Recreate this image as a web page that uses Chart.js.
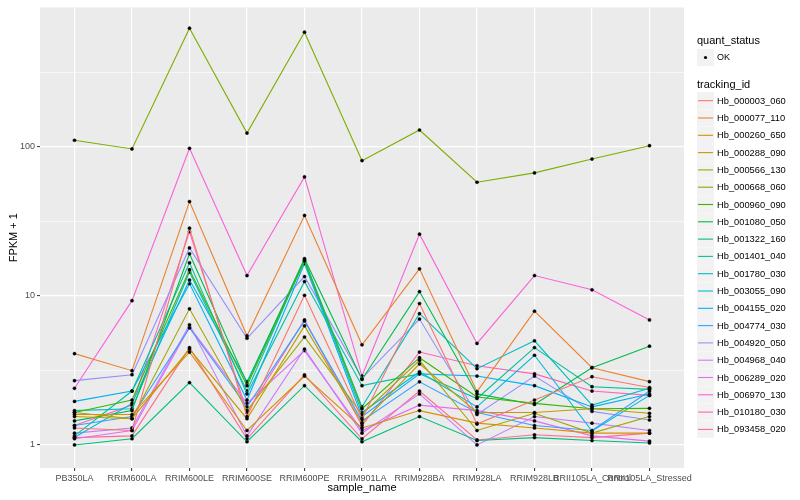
<!DOCTYPE html>
<html>
<head>
<title>FPKM + 1 by sample</title>
<script src="https://cdn.jsdelivr.net/npm/chart.js@4.4.1/dist/chart.umd.min.js"></script>
<style>
  html, body { margin: 0; padding: 0; background: #ffffff; }
  #wrap { width: 800px; height: 500px; }
</style>
</head>
<body>
<div id="wrap"><canvas id="myChart" width="800" height="500"></canvas></div>
<script>
// categories on the x axis
var samples = ["PB350LA", "RRIM600LA", "RRIM600LE", "RRIM600SE", "RRIM600PE", "RRIM901LA",
               "RRIM928BA", "RRIM928LA", "RRIM928LB", "RRII105LA_Control", "RRII105LA_Stressed"];

// FPKM + 1 per tracking id, one value per sample
var hb_000003_060 = [1.30, 1.25, 28.5, 1.55, 10.1, 1.50, 8.9, 1.38, 2.00, 2.87, 2.43];
var hb_000077_110 = [4.10, 3.15, 43.0, 5.40, 34.7, 4.70, 15.2, 2.28, 7.90, 3.30, 2.66];
var hb_000260_650 = [1.60, 1.60, 4.20, 1.25, 2.90, 1.30, 1.70, 1.40, 1.30, 1.20, 1.20];
var hb_000288_090 = [1.55, 1.50, 4.40, 1.50, 6.30, 1.40, 3.50, 1.65, 1.65, 1.75, 1.63];
var hb_000566_130 = [1.65, 1.50, 8.20, 1.70, 5.30, 1.60, 3.70, 1.25, 1.63, 1.20, 1.55];
var hb_000668_060 = [111, 97, 627, 124, 590, 81, 130, 58, 67, 83, 102];
var hb_000960_090 = [1.65, 2.00, 15.0, 2.50, 17.2, 1.75, 3.85, 2.10, 1.90, 1.75, 1.76];
var hb_001080_050 = [1.45, 1.70, 19.2, 2.60, 17.8, 2.75, 10.7, 2.20, 1.87, 3.30, 4.60];
var hb_001322_160 = [1.00, 1.10, 2.62, 1.05, 2.50, 1.05, 1.55, 1.07, 1.12, 1.07, 1.03];
var hb_001401_040 = [1.15, 2.30, 16.7, 2.20, 12.5, 2.50, 3.00, 2.05, 4.50, 2.46, 2.36];
var hb_001780_030 = [1.70, 1.75, 14.5, 2.30, 17.5, 1.80, 7.60, 3.25, 5.00, 1.85, 2.40];
var hb_003055_090 = [1.12, 1.90, 12.8, 2.66, 17.0, 1.65, 3.10, 1.80, 4.00, 1.24, 2.15];
var hb_004155_020 = [1.96, 2.30, 12.1, 2.00, 16.5, 1.55, 3.00, 2.90, 2.50, 1.80, 2.20];
var hb_004774_030 = [1.35, 1.55, 6.10, 1.80, 6.80, 1.45, 2.65, 1.65, 1.35, 1.25, 2.30];
var hb_004920_050 = [2.70, 2.96, 21.0, 5.20, 13.5, 2.80, 7.00, 1.60, 2.90, 1.68, 1.47];
var hb_004968_040 = [1.20, 1.30, 6.40, 1.15, 4.40, 1.20, 2.20, 1.00, 1.55, 1.40, 1.25];
var hb_006289_020 = [1.10, 1.25, 6.20, 1.90, 4.30, 1.25, 1.85, 1.70, 1.45, 1.15, 1.06];
var hb_006970_130 = [2.40, 9.30, 98.0, 13.7, 63.0, 2.90, 26.0, 4.80, 13.7, 11.0, 6.90];
var hb_010180_030 = [1.35, 1.85, 27.0, 1.65, 6.90, 1.35, 4.20, 3.40, 3.00, 2.30, 2.15];
var hb_093458_020 = [1.12, 1.15, 4.50, 1.10, 2.95, 1.10, 2.30, 1.08, 1.17, 1.12, 1.20];

var trackingIds = ["Hb_000003_060", "Hb_000077_110", "Hb_000260_650", "Hb_000288_090", "Hb_000566_130",
                   "Hb_000668_060", "Hb_000960_090", "Hb_001080_050", "Hb_001322_160", "Hb_001401_040",
                   "Hb_001780_030", "Hb_003055_090", "Hb_004155_020", "Hb_004774_030", "Hb_004920_050",
                   "Hb_004968_040", "Hb_006289_020", "Hb_006970_130", "Hb_010180_030", "Hb_093458_020"];
var seriesValues = [hb_000003_060, hb_000077_110, hb_000260_650, hb_000288_090, hb_000566_130,
                    hb_000668_060, hb_000960_090, hb_001080_050, hb_001322_160, hb_001401_040,
                    hb_001780_030, hb_003055_090, hb_004155_020, hb_004774_030, hb_004920_050,
                    hb_004968_040, hb_006289_020, hb_006970_130, hb_010180_030, hb_093458_020];

// y axis ticks
var yTickValues = [1, 10, 100];
var yTickLabels = ["1", "10", "100"];

// ggplot default hue palette for 20 levels
var palette = ["#F8766D", "#EA8331", "#D89000", "#C09B00", "#A3A500", "#7CAE00", "#39B600", "#00BB4E",
               "#00BF7D", "#00C1A3", "#00BFC4", "#00BAE0", "#00B0F6", "#35A2FF", "#9590FF", "#C77CFF",
               "#E76BF3", "#FA62DB", "#FF62BC", "#FF6C91"];

var fontFam = "'Liberation Sans', Arial, sans-serif";

var datasets = seriesValues.map(function (vals, i) {
  return {
    label: trackingIds[i],
    data: vals.map(function (v, j) { return { x: j, y: v }; }),
    borderColor: palette[i],
    backgroundColor: palette[i],
    borderWidth: 1.1,
    pointRadius: 1.6,
    pointStyle: "circle",
    pointBackgroundColor: "#000000",
    pointBorderColor: "#000000",
    pointBorderWidth: 0.4,
    tension: 0
  };
});

// ticks: majors with labels, minors between them (log midpoints)
function buildYTicks(scale) {
  var t = [];
  yTickValues.forEach(function (v) {
    t.push({ value: v, major: true });
    t.push({ value: v * Math.sqrt(10), major: false });
  });
  scale.ticks = t;
}

var panelBg = {
  id: "panelBg",
  beforeDraw: function (chart) {
    var a = chart.chartArea, ctx = chart.ctx;
    ctx.save();
    ctx.fillStyle = "#EBEBEB";
    ctx.fillRect(a.left, a.top, a.right - a.left, a.bottom - a.top);
    ctx.restore();
  }
};

var ggLegend = {
  id: "ggLegend",
  afterDraw: function (chart) {
    var ctx = chart.ctx;
    var x0 = 697, keyW = 17, keyH = 17;
    ctx.save();
    ctx.textBaseline = "middle";
    ctx.textAlign = "left";
    ctx.fillStyle = "#000000";
    ctx.font = "11px " + fontFam;
    ctx.fillText("quant_status", x0, 41);
    // OK key
    ctx.fillStyle = "#F2F2F2";
    ctx.fillRect(x0, 49, keyW, keyH);
    ctx.fillStyle = "#000000";
    ctx.beginPath();
    ctx.arc(x0 + keyW / 2, 57.5, 1.6, 0, Math.PI * 2);
    ctx.fill();
    ctx.font = "9px " + fontFam;
    ctx.fillText("OK", x0 + 20, 57.5);

    ctx.font = "11px " + fontFam;
    ctx.fillText("tracking_id", x0, 85);
    ctx.font = "9.3px " + fontFam;
    for (var i = 0; i < trackingIds.length; i++) {
      var cy = 100.7 + i * 17.3;
      ctx.fillStyle = "#F2F2F2";
      ctx.fillRect(x0, cy - keyH / 2, keyW, keyH);
      ctx.strokeStyle = palette[i];
      ctx.lineWidth = 1.1;
      ctx.beginPath();
      ctx.moveTo(x0 + 1, cy);
      ctx.lineTo(x0 + keyW - 1, cy);
      ctx.stroke();
      ctx.fillStyle = "#000000";
      ctx.fillText(trackingIds[i], x0 + 20, cy + 0.5);
    }
    ctx.restore();
  }
};

var ctx = document.getElementById("myChart").getContext("2d");
var chart = new Chart(ctx, {
  type: "line",
  data: { datasets: datasets },
  options: {
    responsive: false,
    animation: false,
    devicePixelRatio: 1,
    layout: { padding: { top: 5, right: 116, left: 0, bottom: 0 } },
    plugins: {
      legend: { display: false },
      tooltip: { enabled: false }
    },
    scales: {
      x: {
        type: "linear",
        min: -0.6,
        max: samples.length - 1 + 0.6,
        afterBuildTicks: function (scale) {
          scale.ticks = samples.map(function (s, i) { return { value: i }; });
        },
        afterFit: function (scale) { scale.height = 32; },
        border: { display: false },
        grid: {
          color: "#FFFFFF",
          lineWidth: 1.2,
          tickLength: 3,
          tickColor: "#333333",
          tickWidth: 1
        },
        ticks: {
          autoSkip: false,
          maxRotation: 0,
          minRotation: 0,
          padding: 2,
          color: "#4D4D4D",
          font: { family: fontFam, size: 9 },
          callback: function (v) { return samples[v]; }
        },
        title: {
          display: true,
          text: "sample_name",
          color: "#000000",
          font: { family: fontFam, size: 11 },
          padding: { top: 0, bottom: 5 }
        }
      },
      y: {
        type: "logarithmic",
        min: 0.72,
        max: 865,
        afterBuildTicks: buildYTicks,
        afterFit: function (scale) { scale.width = 40; },
        border: { display: false },
        grid: {
          color: "#FFFFFF",
          lineWidth: function (c) { return c.tick && c.tick.major ? 1.2 : 0.6; },
          tickLength: 3,
          tickColor: function (c) { return c.tick && c.tick.major ? "#333333" : "rgba(0,0,0,0)"; },
          tickWidth: 1
        },
        ticks: {
          padding: 2,
          color: "#4D4D4D",
          font: { family: fontFam, size: 9 },
          callback: function (v, i, ticks) {
            var k = yTickValues.indexOf(v);
            return k >= 0 ? yTickLabels[k] : "";
          }
        },
        title: {
          display: true,
          text: "FPKM + 1",
          color: "#000000",
          font: { family: fontFam, size: 11 },
          padding: { top: 7, bottom: 0 }
        }
      }
    }
  },
  plugins: [panelBg, ggLegend]
});
</script>
</body>
</html>
